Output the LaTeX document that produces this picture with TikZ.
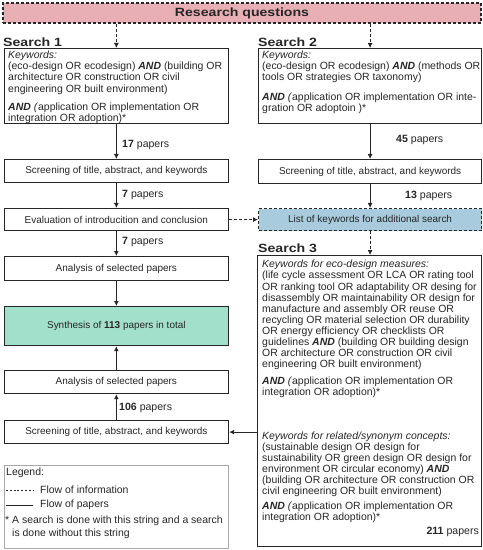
\documentclass[tikz,border=0pt]{standalone}
\usepackage{fontspec}
\setmainfont{Liberation Sans}
\newfontfamily\headfont[FakeStretch=1.18]{Liberation Sans Bold}
\usetikzlibrary{arrows.meta,calc}
\definecolor{rqpink}{HTML}{E8AFB5}
\definecolor{synteal}{HTML}{A3E0CC}
\definecolor{listblue}{HTML}{A8CCDD}
\definecolor{linecol}{HTML}{262626}
\definecolor{leggray}{HTML}{A8A8A8}
\newcommand{\kwand}{\textbf{\textit{AND}}}
\begin{document}
\begin{tikzpicture}[x=1bp,y=-1bp,
  every node/.style={font=\fontsize{10}{11}\selectfont, text=black!85},
  stepbox/.style={draw=linecol, line width=1.2bp, inner sep=0pt, anchor=north west,
    minimum width=224.5bp, minimum height=23bp},
  rbox/.style={stepbox, minimum width=223bp},
  kw/.style={anchor=north west, inner sep=0pt, align=left,
    font=\fontsize{10.5}{11.15}\selectfont},
  lbl/.style={anchor=west, inner sep=0pt, font=\fontsize{10.6}{12}\selectfont},
  head/.style={anchor=base west, inner sep=0pt, font=\headfont\fontsize{12}{14}\selectfont},
  flow/.style={draw=linecol, line width=0.9bp, -{Latex[length=5bp,width=5bp]}},
  info/.style={flow, dash pattern=on 3bp off 2bp},
  dbox/.style={dash pattern=on 3bp off 2bp}
]
\useasboundingbox (0,0) rectangle (483,550);

% Research questions
\node[draw=linecol, line width=1.2bp, dbox, fill=rqpink, minimum width=478bp, minimum height=20bp, inner sep=0pt,
  font=\headfont\fontsize{12}{14}\selectfont] (rq) at (242,13) {Research questions};

% Search 1
\node[head] (s1h) at (3,46.5) {Search 1};
\node[stepbox, minimum height=75bp] (s1) at (3.5,48) {};
\node[kw] (s1t) at (8,51) {\textit{Keywords:}\\
(eco-design OR ecodesign) \kwand{} (building OR\\
architecture OR construction OR civil\\
engineering OR built environment)\\[7bp]
\kwand{} \textit{(}application OR implementation OR\\
integration OR adoption)*};

% Search 2
\node[head] (s2h) at (258,46.5) {Search 2};
\node[rbox, minimum height=75bp] (s2) at (258,48) {};
\node[kw] (s2t) at (262,51) {\textit{Keywords:}\\
(eco-design OR ecodesign) \kwand{} (methods OR\\
tools OR strategies OR taxonomy)\\[8bp]
\kwand{} \textit{(}application OR implementation OR inte-\\
gration OR adoptoin )*};

% left column
\node[stepbox] (scr1) at (3.5,159) {Screening of title, abstract, and keywords};
\node[stepbox, minimum height=22bp] (eval) at (3.5,208) {Evaluation of introducition and conclusion};
\node[stepbox, minimum height=24bp] (an1) at (3.5,256) {Analysis of selected papers};
\node[stepbox, fill=synteal, minimum height=39bp] (syn) at (3.5,306) {Synthesis of \textbf{113} papers in total};
\node[stepbox] (an2) at (3.5,370) {Analysis of selected papers};
\node[stepbox] (scr3) at (3.5,420) {Screening of title, abstract, and keywords};

% right column
\node[rbox, minimum height=24bp] (scr2) at (258,159) {Screening of title, abstract, and keywords};
\node[rbox, dbox, fill=listblue, minimum height=22bp] (list) at (258,208) {List of keywords for additional search};

% Search 3
\node[head] (s3h) at (258,252.5) {Search 3};
\node[stepbox, minimum width=224bp, minimum height=291bp] (s3) at (257,255) {};
\node[kw] (s3t) at (262,260) {\textit{Keywords for eco-design measures:}\\
(life cycle assessment OR LCA OR rating tool\\
OR ranking tool OR adaptability OR desing for\\
disassembly OR maintainability OR design for\\
manufacture and assembly OR reuse OR\\
recycling OR material selection OR durability\\
OR energy efficiency OR checklists OR\\
guidelines \kwand{} (building OR building design\\
OR architecture OR construction OR civil\\
engineering OR built environment)\\[6bp]
\kwand{} \textit{(}application OR implementation OR\\
integration OR adoption)*\\[32bp]
\textit{Keywords for related/synonym concepts:}\\
(sustainable design OR design for\\
sustainability OR green design OR design for\\
environment OR circular economy) \kwand{}\\
(building OR architecture OR construction OR\\
civil engineering OR built environment)\\[4bp]
\kwand{} \textit{(}application OR implementation OR\\
integration OR adoption)*};
\node[anchor=base east, inner sep=0pt, font=\fontsize{10.6}{12}\selectfont] (p211) at (479,534) {\textbf{211} papers};

% paper counts
\node[lbl] (p17) at (122,145) {\textbf{17} papers};
\node[lbl] (p7a) at (122,195) {\textbf{7} papers};
\node[lbl] (p7b) at (122,242) {\textbf{7} papers};
\node[lbl] (p106) at (119,408) {\textbf{106} papers};
\node[lbl] (p45) at (396,140) {\textbf{45} papers};
\node[lbl] (p13) at (405,196) {\textbf{13} papers};

% connectors
\draw[info] (rq.south -| s1.north) -- (s1.north);
\draw[info] (rq.south -| s2.north) -- (s2.north);
\draw[flow] (s1) -- (scr1);
\draw[flow] (scr1) -- (eval);
\draw[flow] (eval) -- (an1);
\draw[flow] (an1) -- (syn);
\draw[flow] (an2) -- (syn);
\draw[flow] (scr3) -- (an2);
\draw[flow] (s2) -- (scr2);
\draw[flow] (scr2) -- (list);
\draw[info] (list) -- (s3.north -| list.south);
\draw[info] (eval.east) -- (list.west);
\coordinate (s3in) at (scr3.east -| s3.west);
\draw[flow] (s3in) -- (scr3.east);

% legend
\node[draw=leggray, line width=0.8bp, anchor=north west, inner sep=0pt, minimum width=224.5bp, minimum height=83bp] (leg) at (3.5,465) {};
\node[anchor=west, inner sep=0pt, font=\fontsize{10.5}{12}\selectfont] (legt) at (6,473) {Legend:};
\coordinate (li1a) at (6,490); \coordinate (li1b) at (33,490);
\coordinate (li2a) at (6,505); \coordinate (li2b) at (33,505);
\draw[draw=linecol, line width=0.7bp, dash pattern=on 2bp off 1.8bp] (li1a) -- (li1b);
\draw[draw=linecol, line width=0.9bp] (li2a) -- (li2b);
\node[anchor=west, inner sep=0pt, font=\fontsize{10.5}{12}\selectfont] (legi) at (40,490) {Flow of information};
\node[anchor=west, inner sep=0pt, font=\fontsize{10.5}{12}\selectfont] (legp) at (40,505) {Flow of papers};
\node[anchor=north west, inner sep=0pt, align=left, font=\fontsize{10.5}{12.5}\selectfont] (legs) at (5,516) {* A search is done with this string and a search\\
\hspace*{7bp}is done without this string};
\end{tikzpicture}
\end{document}
